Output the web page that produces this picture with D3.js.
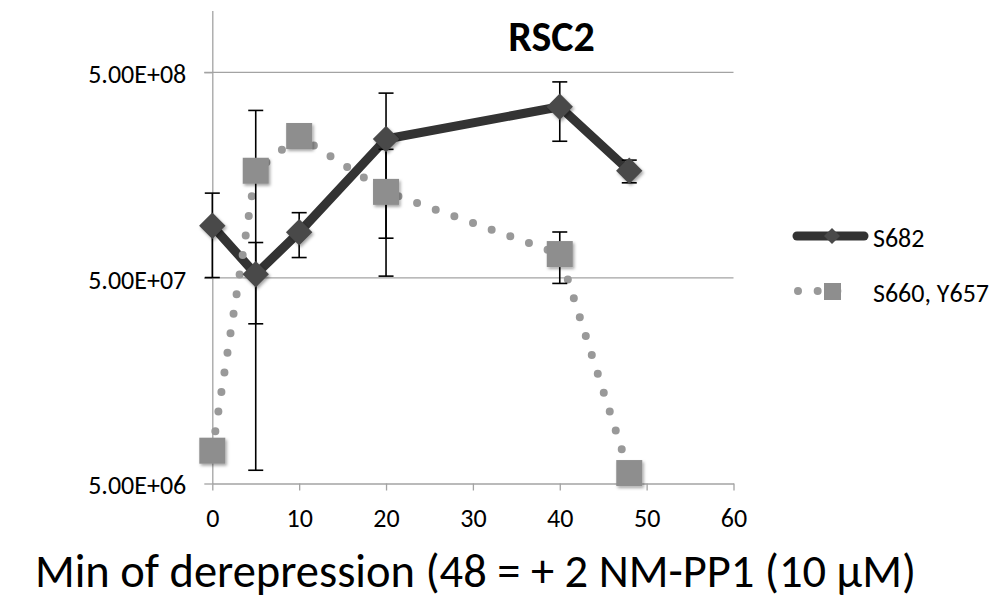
<!DOCTYPE html>
<html>
<head>
<meta charset="utf-8">
<script src="https://cdn.jsdelivr.net/npm/d3@7"></script>
<style>
  html, body { margin: 0; padding: 0; background: #fff; }
  svg { display: block; font-family: Carlito, Lato, "Open Sans", sans-serif; }
</style>
</head>
<body>
<svg id="chart" width="995" height="600"></svg>
<script>
// ---- data ----
const minutes = [0, 5, 10, 20, 40, 48];
const s682 = [8.97e7, 5.21e7, 8.33e7, 2.37e8, 3.40e8, 1.66e8];
const s682Err = [3.95e7, 2.22e7, 2.05e7, 1.59e8, 1.09e8, 2.1e7];
const s660 = [7.22e6, 1.66e8, 2.45e8, 1.31e8, 6.53e7, 5.62e6];
const s660Err = [0, 1.602e8, 0, 8.0e7, 1.83e7, 0];
const seriesNames = ["S682", "S660, Y657"];
const xTicks = [0, 10, 20, 30, 40, 50, 60];
const yTicks = [5e6, 5e7, 5e8];
const chartTitle = "RSC2";
const xTitle = "Min of derepression (48 = + 2 NM-PP1 (10 \u03bcM)";

// ---- layout ----
const FONT = "Carlito, Lato, sans-serif";
const svg = d3.select("#chart");
const x = d3.scaleLinear().domain([0, 60]).range([212.3, 733.5]);
const y = d3.scaleLog().domain([5e6, 1e9]).range([483.5, 10.4]);

const defs = svg.append("defs");
const f = defs.append("filter").attr("id", "shadow")
  .attr("x", "-50%").attr("y", "-50%").attr("width", "200%").attr("height", "200%");
f.append("feDropShadow").attr("dx", 1.5).attr("dy", 2).attr("stdDeviation", 1.6)
  .attr("flood-color", "#000").attr("flood-opacity", 0.35);

const gridColor = "#a3a3a3";

// gridlines
svg.append("g").selectAll("line").data(yTicks.slice(1)).join("line")
  .attr("x1", x(0) - 8).attr("x2", x(60))
  .attr("y1", d => y(d)).attr("y2", d => y(d))
  .attr("stroke", gridColor).attr("stroke-width", 1.3);

// y axis
const fmt = v => {
  const [m, e] = d3.format(".2e")(v).split("e");
  const sign = e[0] === "-" ? "-" : "+";
  const ex = e.replace(/^[+-]/, "").padStart(2, "0");
  return m + "E" + sign + ex;
};
const yAxis = svg.append("g").attr("transform", `translate(${x(0)},0)`)
  .call(d3.axisLeft(y).tickValues(yTicks).tickFormat(fmt)
    .tickSize(8).tickSizeOuter(0).tickPadding(18));
yAxis.attr("font-family", FONT).attr("font-size", 26);
yAxis.select(".domain").attr("stroke", gridColor).attr("stroke-width", 1.3);
yAxis.selectAll(".tick line").attr("stroke", gridColor).attr("stroke-width", 1.3);
yAxis.selectAll(".tick text").attr("fill", "#000").attr("dy", "0.40em");

// x axis
const xAxis = svg.append("g").attr("transform", `translate(0,${y(5e6)})`)
  .call(d3.axisBottom(x).tickValues(xTicks).tickFormat(d3.format("d"))
    .tickSize(7).tickSizeOuter(0).tickPadding(17.7));
xAxis.attr("font-family", FONT).attr("font-size", 26);
xAxis.select(".domain").attr("stroke", gridColor).attr("stroke-width", 1.3);
xAxis.selectAll(".tick line").attr("stroke", gridColor).attr("stroke-width", 1.3);
xAxis.selectAll(".tick text").attr("fill", "#000").attr("dy", "0.71em");

// lines
const pts682 = minutes.map((m, i) => [x(m), y(s682[i])]);
const pts660 = minutes.map((m, i) => [x(m), y(s660[i])]);
const line = d3.line().curve(d3.curveLinear);

svg.append("path").attr("d", line(pts682))
  .attr("fill", "none").attr("stroke", "#333333").attr("stroke-width", 9)
  .attr("stroke-linejoin", "round");

svg.append("path").attr("d", line(pts660))
  .attr("fill", "none").attr("stroke", "#999999").attr("stroke-width", 8)
  .attr("stroke-linecap", "round").attr("stroke-dasharray", "0 19.8");

// error bars
function errorBars(vals, errs) {
  const g = svg.append("g").attr("stroke", "#000").attr("stroke-width", 1.6);
  minutes.forEach((m, i) => {
    if (!errs[i]) return;
    const cx = x(m);
    const yHi = y(vals[i] + errs[i]);
    const yLo = y(Math.max(vals[i] - errs[i], 5e6));
    g.append("line").attr("x1", cx).attr("x2", cx).attr("y1", yHi).attr("y2", yLo);
    g.append("line").attr("x1", cx - 7.5).attr("x2", cx + 7.5).attr("y1", yHi).attr("y2", yHi);
    g.append("line").attr("x1", cx - 7.5).attr("x2", cx + 7.5).attr("y1", yLo).attr("y2", yLo);
  });
}
errorBars(s682, s682Err);
errorBars(s660, s660Err);

// markers
const diamond = r => `M0,${-r}L${r},0L0,${r}L${-r},0Z`;
svg.append("g").selectAll("path").data(pts682).join("path")
  .attr("d", diamond(13.2))
  .attr("transform", d => `translate(${d[0]},${d[1]})`)
  .attr("fill", "#4a4a4a").attr("filter", "url(#shadow)");

svg.append("g").selectAll("rect").data(pts660).join("rect")
  .attr("x", d => d[0] - 13).attr("y", d => d[1] - 13)
  .attr("width", 26).attr("height", 26)
  .attr("fill", "#8e8e8e").attr("filter", "url(#shadow)");

// title
svg.append("text").attr("x", 551.5).attr("y", 51).attr("text-anchor", "middle")
  .attr("font-family", FONT).attr("font-weight", "bold").attr("font-size", 42)
  .attr("fill", "#000").text(chartTitle);

// x title
svg.append("text").attr("x", 916).attr("y", 587).attr("text-anchor", "end")
  .attr("font-family", FONT).attr("font-size", 46.5)
  .attr("fill", "#000").text(xTitle);

// legend
const lg = svg.append("g");
lg.append("line").attr("x1", 797).attr("x2", 864).attr("y1", 236).attr("y2", 236)
  .attr("stroke", "#333333").attr("stroke-width", 9).attr("stroke-linecap", "round");
lg.append("path").attr("d", diamond(8)).attr("transform", "translate(832,236)")
  .attr("fill", "#4a4a4a");
lg.append("line").attr("x1", 798).attr("x2", 857).attr("y1", 291).attr("y2", 291)
  .attr("stroke", "#999999").attr("stroke-width", 8).attr("stroke-linecap", "round")
  .attr("stroke-dasharray", "0 19.67");
lg.append("rect").attr("x", 824).attr("y", 283).attr("width", 17).attr("height", 17)
  .attr("fill", "#8e8e8e");
lg.selectAll("text").data(seriesNames).join("text")
  .attr("x", 873).attr("y", (d, i) => i === 0 ? 246.7 : 301.7)
  .attr("font-family", FONT).attr("font-size", 26).attr("fill", "#000")
  .text(d => d);
</script>
</body>
</html>
